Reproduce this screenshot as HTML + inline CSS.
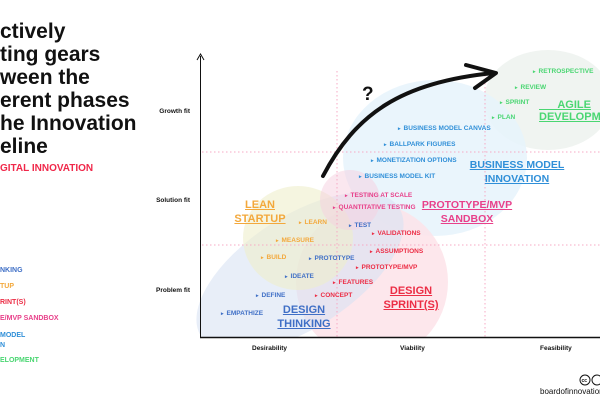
<!DOCTYPE html>
<html><head><meta charset="utf-8"><style>
body{margin:0;width:600px;height:403px;overflow:hidden;background:#fff;position:relative;font-family:"Liberation Sans",sans-serif;}
.t{position:absolute;font-weight:bold;white-space:nowrap;}
.i{position:absolute;font-weight:bold;font-size:6.5px;white-space:nowrap;line-height:8px;transform:translateY(-4px);}
.i:before{content:"\25B8";font-size:5px;margin-left:-7px;margin-right:3px;}
.h{position:absolute;font-weight:bold;font-size:11px;line-height:14px;text-align:center;text-decoration:underline;white-space:nowrap;transform:translateX(-50%);}
.ax{position:absolute;font-weight:bold;font-size:6.5px;color:#111;white-space:nowrap;}
.dt{color:#3f6fc6}.ls{color:#f3a83b}.ds{color:#ec2d45}.pm{color:#e8408a}.bm{color:#2f8fd8}.ag{color:#4ad672}
</style></head><body>
<svg width="600" height="403" style="position:absolute;left:0;top:0">
<ellipse cx="548" cy="100" rx="64" ry="50" fill="#eef3ef" opacity="0.9"/>
<ellipse cx="435" cy="158" rx="92" ry="78" fill="#e6f3fb" opacity="0.85"/>
<ellipse cx="372" cy="282" rx="76" ry="78" fill="#fde3e9" opacity="0.85"/>
<ellipse cx="300" cy="272" rx="118" ry="56" transform="rotate(-33 300 272)" fill="#d9e3f4" opacity="0.6"/>
<ellipse cx="298" cy="238" rx="55" ry="52" fill="#eeeecc" opacity="0.6"/>
<circle cx="350" cy="200" r="30" fill="#f6cfe0" opacity="0.5"/>
<rect x="150" y="338" width="450" height="65" fill="#fff"/>
<g stroke="#f7a9c4" stroke-width="1" stroke-dasharray="1.5,2.5">
<line x1="337" y1="71" x2="337" y2="337"/>
<line x1="485" y1="71" x2="485" y2="337"/>
<line x1="202" y1="152" x2="600" y2="152"/>
<line x1="202" y1="245" x2="600" y2="245"/>
</g>
<line x1="200.5" y1="56" x2="200.5" y2="338" stroke="#111" stroke-width="1"/>
<polyline points="197,60 200.5,54 204,60" fill="none" stroke="#111" stroke-width="1"/>
<line x1="200" y1="337.5" x2="600" y2="337.5" stroke="#111" stroke-width="1.5"/>
<path d="M323,176 C355,115 400,82 494,73" fill="none" stroke="#111" stroke-width="4" stroke-linecap="round"/>
<polyline points="466,65 496,73 475,88" fill="none" stroke="#111" stroke-width="4" stroke-linecap="round" stroke-linejoin="round"/>
<text x="362" y="100" font-family="Liberation Sans" font-weight="bold" font-size="19" fill="#111">?</text>
<circle cx="585" cy="380" r="5" fill="none" stroke="#111" stroke-width="1"/>
<text x="581.5" y="382" font-family="Liberation Sans" font-weight="bold" font-size="5" fill="#111">cc</text>
<circle cx="597" cy="380" r="5" fill="none" stroke="#111" stroke-width="1"/>
</svg>

<div class="t" style="left:0;top:20px;font-size:21px;line-height:23px;color:#111;">ctively<br>ting gears<br>ween the<br>erent phases<br>he Innovation<br>eline</div>
<div class="t" style="left:0;top:163px;font-size:10px;color:#f0284a;">GITAL INNOVATION</div>
<div class="t dt" style="left:0;top:267px;font-size:7px;">NKING</div>
<div class="t ls" style="left:0;top:283px;font-size:7px;">TUP</div>
<div class="t ds" style="left:0;top:299px;font-size:7px;">RINT(S)</div>
<div class="t pm" style="left:0;top:315px;font-size:7px;">E/MVP SANDBOX</div>
<div class="t bm" style="left:0;top:331px;font-size:7px;line-height:10px;">MODEL<br>N</div>
<div class="t ag" style="left:0;top:357px;font-size:7px;">ELOPMENT</div>

<div class="ax" style="right:410px;top:108px;">Growth fit</div>
<div class="ax" style="right:410px;top:197px;">Solution fit</div>
<div class="ax" style="right:410px;top:287px;">Problem fit</div>
<div class="ax" style="left:252px;top:345px;">Desirability</div>
<div class="ax" style="left:400px;top:345px;">Viability</div>
<div class="ax" style="left:540px;top:345px;">Feasibility</div>
<div class="t" style="left:540px;top:387px;font-size:8px;font-weight:normal;color:#111;">boardofinnovation</div>

<div class="i ag" style="left:540px;top:72px;">RETROSPECTIVE</div>
<div class="i ag" style="left:522px;top:88px;">REVIEW</div>
<div class="i ag" style="left:507px;top:103px;">SPRINT</div>
<div class="i ag" style="left:499px;top:118px;">PLAN</div>
<div class="t ag" style="left:539px;top:99px;font-size:11px;line-height:12px;text-decoration:underline;">&nbsp;&nbsp;&nbsp;&nbsp;&nbsp;&nbsp;AGILE<br>DEVELOPMENT</div>
<div class="i bm" style="left:405px;top:129px;">BUSINESS MODEL CANVAS</div>
<div class="i bm" style="left:391px;top:145px;">BALLPARK FIGURES</div>
<div class="i bm" style="left:378px;top:161px;">MONETIZATION OPTIONS</div>
<div class="i bm" style="left:366px;top:177px;">BUSINESS MODEL KIT</div>
<div class="h bm" style="left:517px;top:158px;font-size:10.5px;">BUSINESS MODEL<br>INNOVATION</div>
<div class="i pm" style="left:352px;top:196px;">TESTING AT SCALE</div>
<div class="i pm" style="left:340px;top:208px;">QUANTITATIVE TESTING</div>
<div class="h pm" style="left:467px;top:198px;font-size:10.5px;">PROTOTYPE/MVP<br>SANDBOX</div>
<div class="i ls" style="left:306px;top:223px;">LEARN</div>
<div class="i ls" style="left:283px;top:241px;">MEASURE</div>
<div class="i ls" style="left:268px;top:258px;">BUILD</div>
<div class="h ls" style="left:260px;top:198px;">LEAN<br>STARTUP</div>
<div class="i dt" style="left:356px;top:226px;">TEST</div>
<div class="i dt" style="left:316px;top:259px;">PROTOTYPE</div>
<div class="i dt" style="left:292px;top:277px;">IDEATE</div>
<div class="i dt" style="left:263px;top:296px;">DEFINE</div>
<div class="i dt" style="left:228px;top:314px;">EMPATHIZE</div>
<div class="h dt" style="left:304px;top:303px;">DESIGN<br>THINKING</div>
<div class="i ds" style="left:379px;top:234px;">VALIDATIONS</div>
<div class="i ds" style="left:377px;top:252px;">ASSUMPTIONS</div>
<div class="i ds" style="left:363px;top:268px;">PROTOTYPE/MVP</div>
<div class="i ds" style="left:340px;top:283px;">FEATURES</div>
<div class="i ds" style="left:322px;top:296px;">CONCEPT</div>
<div class="h ds" style="left:411px;top:284px;">DESIGN<br>SPRINT(S)</div>
</body></html>
